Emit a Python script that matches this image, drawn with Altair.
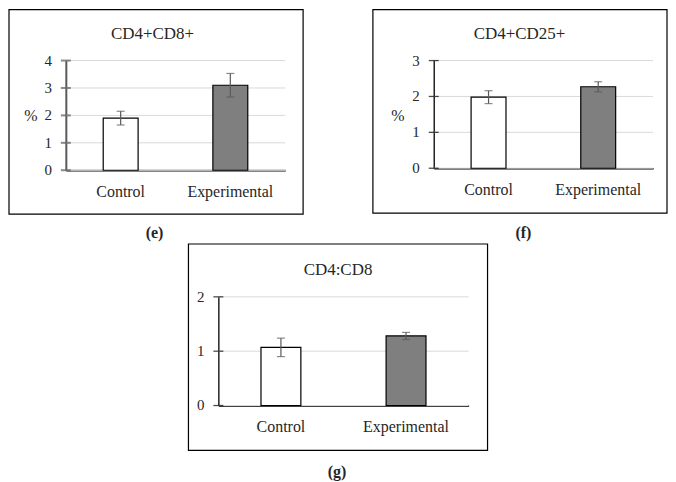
import altair as alt
import pandas as pd

groups = ["Control", "Experimental"]

titles = ["CD4+CD8+", "CD4+CD25+", "CD4:CD8"]
captions = ["(e)", "(f)", "(g)"]

cd4cd8_mean = [1.9, 3.1]
cd4cd8_err = [0.25, 0.43]
cd4cd8_ticks = [0, 1, 2, 3, 4]

cd4cd25_mean = [1.98, 2.27]
cd4cd25_err = [0.18, 0.14]
cd4cd25_ticks = [0, 1, 2, 3]

ratio_mean = [1.07, 1.28]
ratio_err = [0.17, 0.065]
ratio_ticks = [0, 1, 2]

FONT = "Liberation Serif"
TXT = "#262626"


def panel(title, caption, means, errs, ticks, width, height, bar_size,
          axis_color, axis_width, box, title_xy, caption_xy, pct_xy):
    df = pd.DataFrame({
        "group": groups,
        "mean": means,
        "lo": [m - e for m, e in zip(means, errs)],
        "hi": [m + e for m, e in zip(means, errs)],
    })
    yscale = alt.Scale(domain=[ticks[0], ticks[-1]], nice=False)
    yaxis = alt.Axis(title=None, labels=False, grid=False, ticks=False,
                     domainColor=axis_color, domainWidth=axis_width)
    xaxis = alt.Axis(title=None, labelAngle=0, ticks=False, grid=False,
                     domainColor=axis_color, domainWidth=axis_width,
                     labelFont=FONT, labelFontSize=16, labelColor=TXT,
                     labelPadding=13)
    xscale = alt.Scale(paddingInner=0, paddingOuter=0)

    def X():
        return alt.X("group:N", sort=groups, scale=xscale, axis=xaxis)

    def Y(field):
        return alt.Y(field, scale=yscale, axis=yaxis)

    base = alt.Chart(df)
    tick_df = pd.DataFrame({"v": ticks})
    tbase = alt.Chart(tick_df)
    grid = tbase.mark_rule(color="#d9d9d9", strokeWidth=1).encode(y=Y("v:Q"))
    bars = base.mark_bar(size=bar_size, stroke="black", strokeWidth=1.2).encode(
        x=X(),
        y=Y("mean:Q"),
        fill=alt.Fill("group:N", sort=groups,
                      scale=alt.Scale(domain=groups, range=["white", "#7f7f7f"]),
                      legend=None),
    )
    err = base.mark_rule(color="#595959", strokeWidth=1.2).encode(
        x=X(), y=Y("lo:Q"), y2="hi:Q")
    cap_lo = base.mark_tick(size=8, thickness=1.2, color="#595959", orient="horizontal").encode(
        x=X(), y=Y("lo:Q"))
    cap_hi = base.mark_tick(size=8, thickness=1.2, color="#595959", orient="horizontal").encode(
        x=X(), y=Y("hi:Q"))
    yticks = tbase.mark_tick(size=10, thickness=axis_width, color=axis_color,
                             orient="horizontal").encode(y=Y("v:Q"), x=alt.value(0))
    ylabels = tbase.mark_text(font=FONT, fontSize=15, color=TXT, align="right",
                              baseline="middle", dx=-14).encode(
        y=Y("v:Q"), x=alt.value(0), text=alt.Text("v:Q", format="d"))
    one = alt.Chart(pd.DataFrame({"a": [0]}))
    border = one.mark_rect(fill="white", fillOpacity=0, stroke="black", strokeWidth=1.2).encode(
        x=alt.value(box[0]), x2=alt.value(box[1]), y=alt.value(box[2]), y2=alt.value(height + box[3]))
    ttl = one.mark_text(font=FONT, fontSize=17, color=TXT, align="center", baseline="middle").encode(
        x=alt.value(title_xy[0]), y=alt.value(title_xy[1]), text=alt.value(title))
    cap = one.mark_text(font=FONT, fontSize=16, fontWeight="bold", color=TXT,
                        align="center", baseline="middle").encode(
        x=alt.value(caption_xy[0]), y=alt.value(height + caption_xy[1]), text=alt.value(caption))
    layers = [border, grid, bars, err, cap_lo, cap_hi, yticks, ylabels, ttl, cap]
    if pct_xy is not None:
        pct = one.mark_text(font=FONT, fontSize=16, color=TXT, align="center", baseline="middle").encode(
            x=alt.value(pct_xy[0]), y=alt.value(pct_xy[1]), text=alt.value("%"))
        layers.append(pct)
    return alt.layer(*layers).properties(width=width, height=height)


pe = panel(titles[0], captions[0], cd4cd8_mean, cd4cd8_err, cd4cd8_ticks,
           220, 110, 35, "#595959", 2, (-57, 238, -51, 44), (87, -27), (89, 63), (-35, 56))
pf = panel(titles[1], captions[1], cd4cd25_mean, cd4cd25_err, cd4cd25_ticks,
           220, 108, 35, "black", 1.3, (-61, 234, -51, 45), (86, -27), (90, 65), (-36, 56))
pg = panel(titles[2], captions[2], ratio_mean, ratio_err, ratio_ticks,
           251, 109, 40, "black", 1.3, (-30, 270, -53, 45), (120, -27), (119, 67), None)

spacer = alt.Chart(pd.DataFrame({"a": [0]})).mark_point(opacity=0).encode(
    x=alt.value(0), y=alt.value(0)).properties(width=100, height=10)

top = alt.hconcat(pe, pf, spacing=68)
bottom = alt.hconcat(spacer, pg, spacing=22)
chart = alt.vconcat(top, bottom, spacing=2, padding=0).configure_view(stroke=None)

chart.save("out.html", embed_options={"renderer": "svg", "actions": False})
